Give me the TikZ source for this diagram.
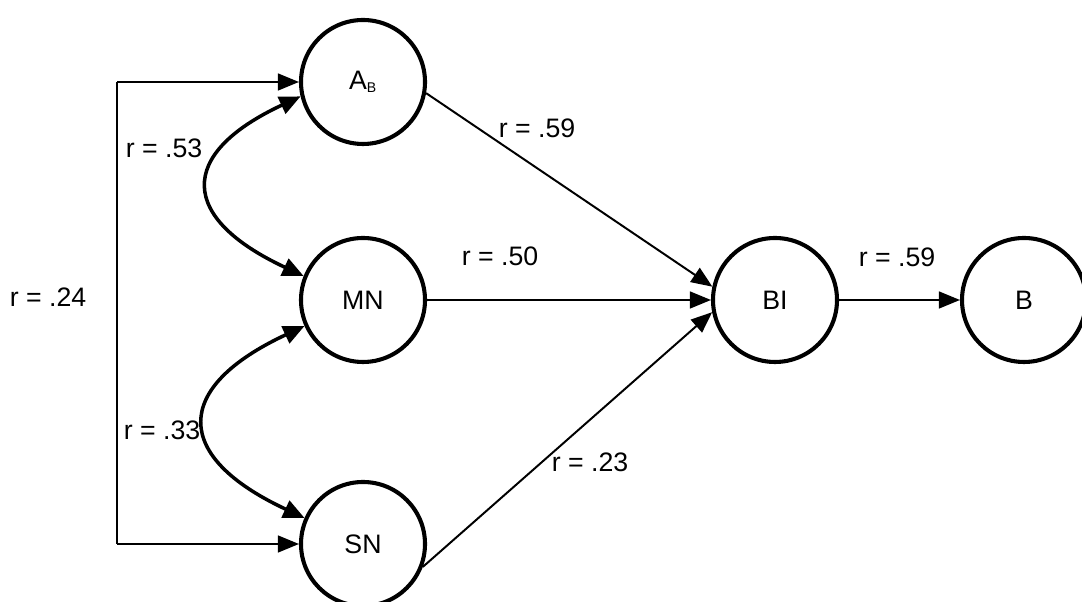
\documentclass[tikz,border=0pt]{standalone}
\usepackage{fontspec}
\setmainfont{Liberation Sans}
\usetikzlibrary{positioning,arrows.meta,calc}

\tikzset{
  var/.style={circle,draw,line width=2.9pt,minimum size=3.1cm,inner sep=0pt,font=\fontsize{19}{23}\selectfont},
  lbl/.style={font=\fontsize{19}{23}\selectfont,inner sep=1pt},
  path/.style={line width=1.4pt,-{Triangle[length=15pt,width=12pt]}},
  corr/.style={line width=2.5pt,{Triangle[length=15pt,width=13pt]}-{Triangle[length=15pt,width=13pt]}}
}

\begin{document}
\begin{tikzpicture}
		\useasboundingbox (0,0) rectangle (27.05,15.05);

		\node[var] (AB) at (9.075,13.0) {A\textsubscript{\fontsize{10}{12}\selectfont B}};
		\node[var] (MN) at (9.075,7.55) {MN};
		\node[var] (SN) at (9.075,1.45) {SN};
		\node[var] (BI) at (19.375,7.55) {BI};
		\node[var] (B) at (25.6,7.55) {B};

		% left bracket
		\coordinate (ltop) at (2.925,13.0);
		\coordinate (lbot) at (2.925,1.45);
		\draw[line width=1.4pt] (lbot) -- (ltop);
		\draw[path] (ltop) -- (AB.west);
		\draw[path] (lbot) -- (SN.west);

		% correlations
		\draw[corr] (AB.193) to[out=205,in=155,looseness=1.95] (MN.158);
		\draw[corr] (MN.204) to[out=205,in=155,looseness=1.95] (SN.156);

		% paths
		\draw[path] (AB.-10) -- (BI.168);
		\draw[path] (MN.east) -- (BI.west);
		\draw[path] (SN.-21) -- (BI.191);
		\draw[path] (BI.east) -- (B.west);

		\node[lbl] (rAB) at (13.425,11.85) {r = .59};
		\node[lbl] (rMN) at (12.5,8.65) {r = .50};
		\node[lbl] (rSN) at (14.75,3.5) {r = .23};
		\node[lbl] (rBI) at (22.425,8.625) {r = .59};
		\node[lbl] (rAM) at (4.1,11.35) {r = .53};
		\node[lbl] (rMS) at (4.05,4.3) {r = .33};
		\node[lbl] (rAS) at (1.2,7.625) {r = .24};
	\end{tikzpicture}
\end{document}
